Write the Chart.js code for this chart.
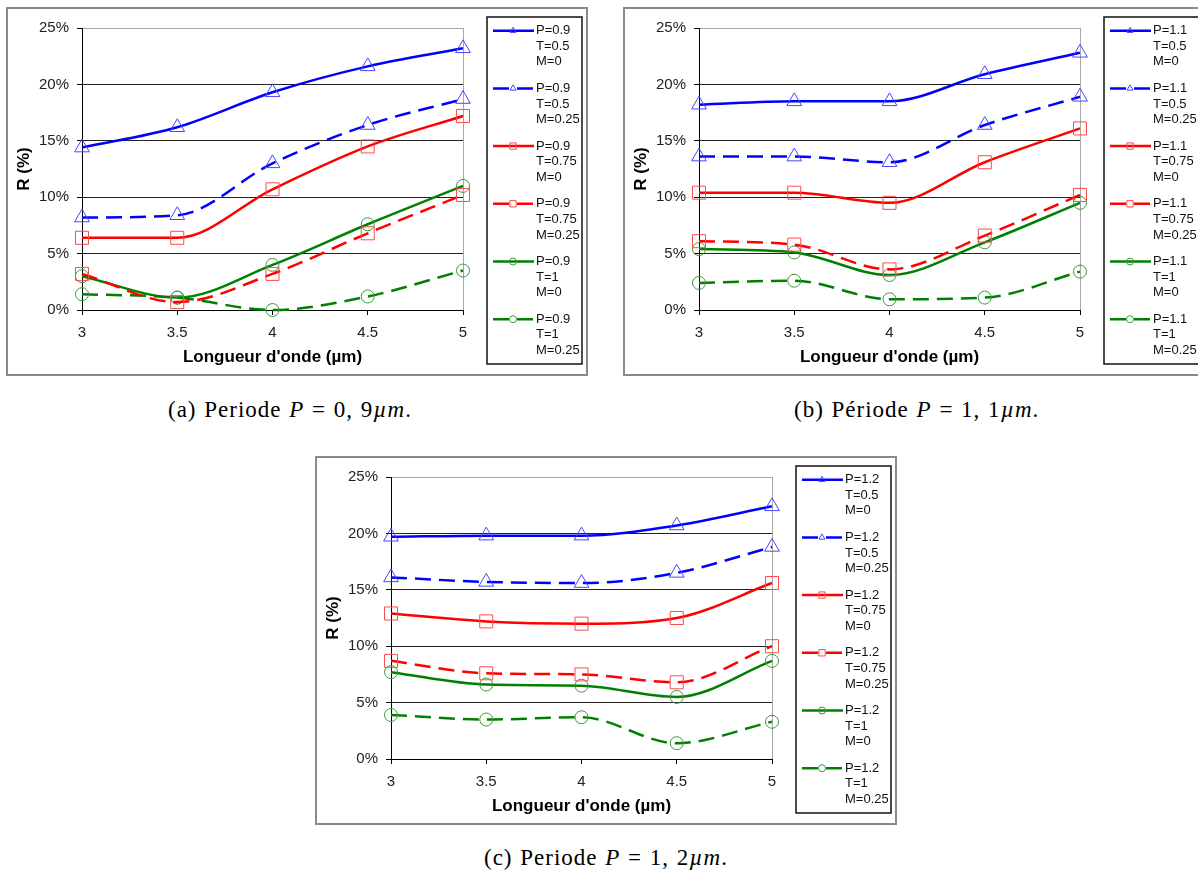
<!DOCTYPE html>
<html>
<head>
<meta charset="utf-8">
<script src="https://cdn.jsdelivr.net/npm/chart.js@4.4.1/dist/chart.umd.min.js"></script>
<style>
html, body { margin: 0; padding: 0; background: #fff; width: 1198px; height: 871px; overflow: hidden; }
.frame { position: absolute; width: 582px; height: 369px; }
.cap { position: absolute; font-family: 'Liberation Serif', serif; font-size: 23px; letter-spacing: 1px; word-spacing: 1px; color: #000; white-space: nowrap; line-height: 26px; }
</style>
</head>
<body>
<div class="frame" style="left:6px;top:7px"><canvas id="chartA"></canvas></div>
<div class="frame" style="left:623px;top:7px"><canvas id="chartB"></canvas></div>
<div class="frame" style="left:315px;top:456px"><canvas id="chartC"></canvas></div>
<div class="cap" style="left:168px;top:397px">(a) Periode <i>P</i> = 0, 9<i>µm</i>.</div>
<div class="cap" style="left:794px;top:397px">(b) Période <i>P</i> = 1, 1<i>µm</i>.</div>
<div class="cap" style="left:484px;top:845px">(c) Periode <i>P</i> = 1, 2<i>µm</i>.</div>
<script>
// wavelength (µm) and reflectance R (%)
const wavelengths = ['3', '3.5', '4', '4.5', '5'];
const yTicks = [0, 5, 10, 15, 20, 25];

// P = 0.9
const a_T05_M0 = [14.4, 16.2, 19.3, 21.6, 23.2];
const a_T05_M025 = [8.2, 8.4, 13.0, 16.4, 18.7];
const a_T075_M0 = [6.4, 6.4, 10.7, 14.5, 17.2];
const a_T075_M025 = [3.2, 0.7, 3.2, 6.8, 10.2];
const a_T1_M0 = [3.0, 1.1, 4.0, 7.6, 11.0];
const a_T1_M025 = [1.4, 1.1, 0.0, 1.2, 3.5];

// P = 1.1
const b_T05_M0 = [18.2, 18.5, 18.5, 20.9, 22.8];
const b_T05_M025 = [13.6, 13.6, 13.1, 16.4, 18.9];
const b_T075_M0 = [10.4, 10.4, 9.5, 13.1, 16.1];
const b_T075_M025 = [6.1, 5.8, 3.6, 6.6, 10.2];
const b_T1_M0 = [5.4, 5.1, 3.1, 6.0, 9.5];
const b_T1_M025 = [2.4, 2.6, 0.95, 1.1, 3.4];

// P = 1.2
const c_T05_M0 = [19.7, 19.8, 19.8, 20.7, 22.4];
const c_T05_M025 = [16.1, 15.7, 15.6, 16.5, 18.8];
const c_T075_M0 = [12.9, 12.2, 12.0, 12.5, 15.6];
const c_T075_M025 = [8.7, 7.6, 7.5, 6.8, 10.0];
const c_T1_M0 = [7.7, 6.6, 6.5, 5.5, 8.7];
const c_T1_M025 = [3.9, 3.5, 3.7, 1.4, 3.3];

const seriesT = ['0.5', '0.5', '0.75', '0.75', '1', '1'];
const seriesM = ['0', '0.25', '0', '0.25', '0', '0.25'];

const lineColors = ['#0000ff', '#0000ff', '#ff0000', '#ff0000', '#008000', '#008000'];
const markColors = ['#4848ff', '#4848ff', '#ff4a4a', '#ff4a4a', '#3c9c3c', '#3c9c3c'];
const markStyles = ['triangle', 'triangle', 'rect', 'rect', 'circle', 'circle'];
const markRadius = [8.5, 8.5, 9.2, 9.2, 6.5, 6.5];
const dash = [16, 8];

function drawMark(ctx, style, x, y, r) {
    ctx.beginPath();
    if (style === 'triangle') {
        ctx.moveTo(x, y - r);
        ctx.lineTo(x + r * 0.866, y + r * 0.5);
        ctx.lineTo(x - r * 0.866, y + r * 0.5);
        ctx.closePath();
    } else if (style === 'rect') {
        ctx.rect(x - r * 0.707, y - r * 0.707, r * 1.414, r * 1.414);
    } else {
        ctx.arc(x, y, r, 0, Math.PI * 2);
    }
    ctx.stroke();
}

const framePlugin = {
    id: 'frame',
    beforeDraw(chart) {
        const c = chart.ctx;
        c.save();
        c.fillStyle = '#fff';
        c.fillRect(0, 0, chart.width, chart.height);
        c.strokeStyle = '#8a8a8a';
        c.lineWidth = 2;
        c.strokeRect(1, 1, chart.width - 2, chart.height - 2);
        c.restore();
    },
    afterDraw(chart) {
        // Excel style legend box
        const c = chart.ctx;
        c.save();
        c.strokeStyle = '#111';
        c.lineWidth = 1.5;
        c.strokeRect(481, 10, 95, 347);
        chart.data.datasets.forEach((ds, i) => {
            const y = 23.7 + i * 57.7;
            c.strokeStyle = ds.borderColor;
            c.lineWidth = 2.5;
            c.setLineDash(ds.borderDash || []);
            c.beginPath();
            c.moveTo(487, y);
            c.lineTo(528, y);
            c.stroke();
            c.setLineDash([]);
            c.strokeStyle = ds.pointBorderColor;
            c.lineWidth = 1;
            drawMark(c, ds.pointStyle, 507, y, ds.pointStyle === 'rect' ? 4.5 : 3.5);
            c.fillStyle = '#111';
            c.font = '13px "Liberation Sans", Arial, sans-serif';
            c.textBaseline = 'middle';
            c.textAlign = 'left';
            ds.legendText.forEach((t, k) => c.fillText(t, 530, y + k * 15.6));
        });
        c.restore();
    }
};

function makeChart(id, period, values) {
    const datasets = values.map((v, i) => ({
        label: 'P=' + period + ' T=' + seriesT[i] + ' M=' + seriesM[i],
        legendText: ['P=' + period, 'T=' + seriesT[i], 'M=' + seriesM[i]],
        data: v,
        borderColor: lineColors[i],
        borderWidth: 2.5,
        borderDash: i % 2 === 1 ? dash : [],
        cubicInterpolationMode: 'monotone',
        fill: false,
        clip: false,
        pointStyle: markStyles[i],
        pointRadius: markRadius[i],
        pointBorderColor: markColors[i],
        pointBackgroundColor: 'rgba(0,0,0,0)',
        pointBorderWidth: 1
    }));

    return new Chart(document.getElementById(id), {
        type: 'line',
        data: { labels: wavelengths, datasets: datasets },
        plugins: [framePlugin],
        options: {
            responsive: true,
            maintainAspectRatio: false,
            animation: false,
            layout: { padding: { left: 0, right: 125, top: 21, bottom: 0 } },
            plugins: { legend: { display: false }, tooltip: { enabled: false } },
            scales: {
                x: {
                    type: 'category',
                    offset: false,
                    afterFit: (s) => { s.height = 66; },
                    border: { color: '#000', width: 1 },
                    grid: {
                        color: (ctx) => ctx.index === wavelengths.length - 1 ? '#a8a8a8' : 'rgba(0,0,0,0)',
                        tickColor: '#000',
                        tickLength: 5
                    },
                    ticks: {
                        color: '#222',
                        padding: 9,
                        maxRotation: 0,
                        font: { family: '"Liberation Sans", Arial, sans-serif', size: 15 }
                    },
                    title: {
                        display: true,
                        text: "Longueur d'onde (µm)",
                        color: '#000',
                        padding: { top: 0, bottom: 8 },
                        font: { family: '"Liberation Sans", Arial, sans-serif', size: 17, weight: 'bold' }
                    }
                },
                y: {
                    min: yTicks[0],
                    max: yTicks[yTicks.length - 1],
                    afterFit: (s) => { s.width = 76; },
                    afterBuildTicks: (s) => { s.ticks = yTicks.map(v => ({ value: v })); },
                    border: { color: '#000', width: 1 },
                    grid: {
                        color: (ctx) => ctx.tick && ctx.tick.value === 25 ? '#a8a8a8' : '#222',
                        tickColor: '#000',
                        tickLength: 5
                    },
                    ticks: {
                        color: '#222',
                        padding: 8,
                        font: { family: '"Liberation Sans", Arial, sans-serif', size: 15 },
                        callback: (v) => v + '%'
                    },
                    title: {
                        display: true,
                        text: 'R (%)',
                        color: '#000',
                        padding: { top: 8, bottom: 0 },
                        font: { family: '"Liberation Sans", Arial, sans-serif', size: 17, weight: 'bold' }
                    }
                }
            }
        }
    });
}

makeChart('chartA', '0.9', [a_T05_M0, a_T05_M025, a_T075_M0, a_T075_M025, a_T1_M0, a_T1_M025]);
makeChart('chartB', '1.1', [b_T05_M0, b_T05_M025, b_T075_M0, b_T075_M025, b_T1_M0, b_T1_M025]);
makeChart('chartC', '1.2', [c_T05_M0, c_T05_M025, c_T075_M0, c_T075_M025, c_T1_M0, c_T1_M025]);
</script>
</body>
</html>
